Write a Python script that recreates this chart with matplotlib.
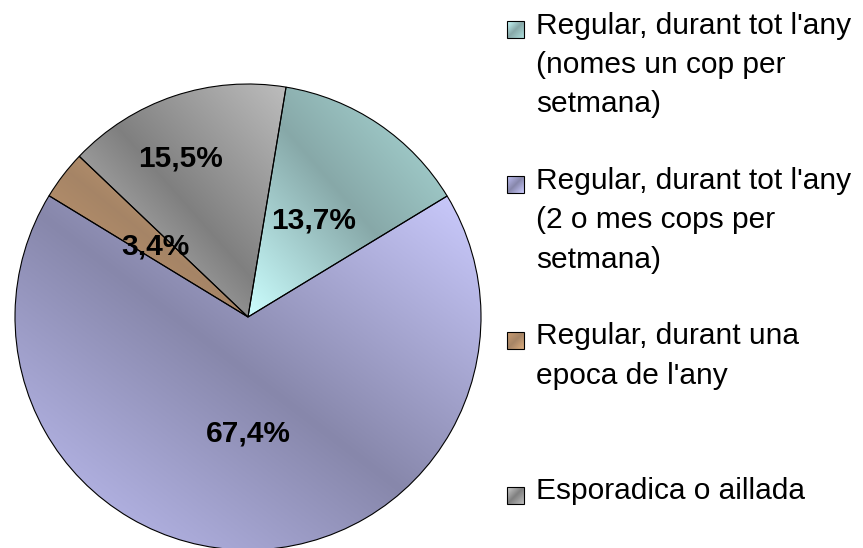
import numpy as np
import matplotlib.pyplot as plt
from matplotlib.patches import Rectangle

plt.rcParams['font.family'] = ['Liberation Sans', 'DejaVu Sans']

# data
labels = ["Regular, durant tot l'any\n(nomes un cop per\nsetmana)",
          "Regular, durant tot l'any\n(2 o mes cops per\nsetmana)",
          "Regular, durant una\nepoca de l'any",
          "Esporadica o aillada"]
values = [13.7, 67.4, 3.4, 15.5]

# gradient colours per slice: (light start, dark middle, light end)
grads = [
    ((0.80, 1.00, 1.00), (0.53, 0.66, 0.66), (0.68, 0.87, 0.86)),
    ((0.76, 0.76, 0.97), (0.53, 0.53, 0.67), (0.80, 0.80, 1.00)),
    ((0.80, 0.62, 0.45), (0.65, 0.52, 0.40), (0.86, 0.68, 0.50)),
    ((0.82, 0.82, 0.82), (0.50, 0.50, 0.50), (0.74, 0.74, 0.74)),
]


def gradient_image(c0, cm, c1, n=200, mid=0.5):
    # diagonal gradient from bottom-left to top-right, dark in the middle
    xx, yy = np.meshgrid(np.linspace(0, 1, n), np.linspace(0, 1, n))
    t = (xx + yy) / 2.0
    c0, cm, c1 = np.array(c0), np.array(cm), np.array(c1)
    a = np.clip(t / mid, 0, 1)[..., None]
    b = np.clip((t - mid) / (1 - mid), 0, 1)[..., None]
    low = c0 + (cm - c0) * a
    high = cm + (c1 - cm) * b
    return np.where((t < mid)[..., None], low, high)


W, H = 863, 548
fig = plt.figure(figsize=(W / 100, H / 100), dpi=100)

cx, cy, r = 248, 317, 233
ax = fig.add_axes([(cx - r) / W, (H - cy - r) / H, 2 * r / W, 2 * r / H])

wedges, texts, autotexts = ax.pie(
    values, startangle=80.6, counterclock=False, radius=1,
    autopct=lambda p: ('%.1f%%' % p).replace('.', ','), pctdistance=0.5,
    wedgeprops=dict(edgecolor='black', linewidth=0.8, facecolor='none'),
    textprops=dict(fontsize=21.5, fontweight='bold', color='black'))

for w, g in zip(wedges, grads):
    w.set_zorder(3)
    ext = w.get_path().get_extents()
    im = ax.imshow(gradient_image(*g), origin='lower',
                   extent=(ext.x0, ext.x1, ext.y0, ext.y1),
                   interpolation='bilinear', zorder=2)
    im.set_clip_path(w)

for t in autotexts:
    t.set_zorder(5)
# the grey label sits higher up in the slice
autotexts[3].set_position((-0.29, 0.68))

ax.set_xlim(-1, 1)
ax.set_ylim(-1, 1)
ax.set_aspect('auto')
ax.axis('off')

# legend drawn in pixel coordinates
lax = fig.add_axes([0, 0, 1, 1])
lax.set_xlim(0, W)
lax.set_ylim(H, 0)
lax.axis('off')

for i, (lab, g) in enumerate(zip(labels, grads)):
    y = 29.5 + 155.3 * i
    s = 17
    lax.imshow(gradient_image(*g, n=40), origin='upper',
               extent=(507, 507 + s, y + s / 2, y - s / 2), zorder=2)
    lax.add_patch(Rectangle((507, y - s / 2), s, s, fill=False,
                            edgecolor='black', linewidth=0.8, zorder=3))
    lax.text(536, y - 18, lab, fontsize=21.5, va='top', ha='left',
             linespacing=1.52, color='black')

lax.set_xlim(0, W)
lax.set_ylim(H, 0)
lax.set_aspect('auto')

fig.savefig('out.png', dpi=100)
